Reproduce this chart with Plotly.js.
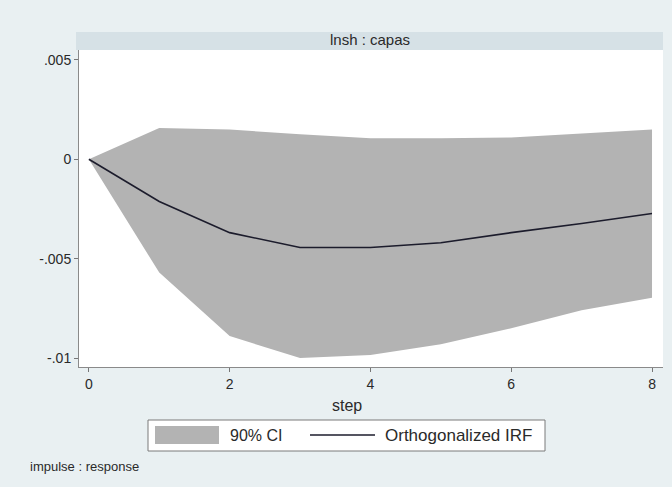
<!DOCTYPE html>
<html>
<head>
<meta charset="utf-8">
<script src="https://cdn.plot.ly/plotly-3.0.1.min.js"></script>
<style>html,body{margin:0;padding:0;background:#e9f0f2;}</style>
</head>
<body>
<div id="chart" style="width:672px;height:487px;"></div>
<script>
// Data
var steps = [0, 1, 2, 3, 4, 5, 6, 7, 8];
var irf   = [0, -0.00212, -0.00369, -0.00444, -0.00444, -0.0042, -0.00369, -0.00323, -0.00273];
var ciLow = [0, -0.0057, -0.00889, -0.0100, -0.00985, -0.0093, -0.0085, -0.0076, -0.00697];
var ciUp  = [0, 0.00157, 0.00150, 0.00126, 0.00106, 0.00106, 0.0011, 0.0013, 0.0015];
var yTickVals = [-0.01, -0.005, 0, 0.005];
var yTickText = ['-.01', '-.005', '0', '.005'];
var xTickVals = [0, 2, 4, 6, 8];
var panelTitle = 'lnsh : capas';
var xTitle = 'step';
var ciLabel = '90% CI';
var irfLabel = 'Orthogonalized IRF';
var noteText = 'impulse : response';

var fillCol = '#b3b3b3';
var lineCol = '#1c1c2c';
var font = 'Liberation Sans, Arial, sans-serif';

var traces = [
  {x: steps, y: ciLow, mode: 'lines', line: {width: 0, color: fillCol}, hoverinfo: 'skip', showlegend: false},
  {x: steps, y: ciUp, mode: 'lines', fill: 'tonexty', fillcolor: fillCol, line: {width: 0, color: fillCol}, showlegend: false},
  {x: steps, y: irf, mode: 'lines', line: {width: 1.6, color: lineCol}, showlegend: false}
];

// plot area: x 79..663, y 50..367 px
var W = 584, H = 317;
function px(x){ return (x - 79) / W; }
function py(y){ return (367 - y) / H; }

var layout = {
  width: 672, height: 487,
  margin: {l: 79, r: 9, t: 50, b: 120},
  paper_bgcolor: '#e9f0f2',
  plot_bgcolor: '#ffffff',
  font: {family: font, color: '#2a2a2a', size: 14},
  xaxis: {
    range: [-0.14, 8.156], tickvals: xTickVals, ticks: 'outside', ticklen: 4,
    tickcolor: '#777', showline: true, linecolor: '#8a8a8a', linewidth: 1,
    showgrid: false, zeroline: false, tickfont: {size: 14, color: '#2a2a2a'}
  },
  yaxis: {
    range: [-0.01045, 0.0055], tickvals: yTickVals, ticktext: yTickText,
    ticks: 'outside', ticklen: 4, tickcolor: '#777', showline: true,
    linecolor: '#8a8a8a', linewidth: 1, showgrid: false, zeroline: false,
    tickfont: {size: 14, color: '#2a2a2a'}
  },
  shapes: [
    // title strip
    {type: 'rect', xref: 'paper', yref: 'paper', x0: px(76), x1: px(663), y0: py(50), y1: py(32),
     fillcolor: '#d6e1e6', line: {width: 0}, layer: 'below'},
    // legend box
    {type: 'rect', xref: 'paper', yref: 'paper', x0: px(148), x1: px(545), y0: py(451), y1: py(420),
     fillcolor: '#ffffff', line: {color: '#7a7a7a', width: 1}},
    // CI swatch
    {type: 'rect', xref: 'paper', yref: 'paper', x0: px(155), x1: px(219), y0: py(444), y1: py(426),
     fillcolor: fillCol, line: {width: 0}},
    // IRF swatch
    {type: 'line', xref: 'paper', yref: 'paper', x0: px(310), x1: px(375), y0: py(435), y1: py(435),
     line: {color: lineCol, width: 1.6}}
  ],
  annotations: [
    {text: panelTitle, xref: 'paper', yref: 'paper', x: px(370), y: py(40), showarrow: false,
     xanchor: 'center', yanchor: 'middle', font: {size: 15, color: '#2a2a2a'}},
    {text: xTitle, xref: 'paper', yref: 'paper', x: px(347), y: py(405), showarrow: false,
     xanchor: 'center', yanchor: 'middle', font: {size: 16, color: '#2a2a2a'}},
    {text: ciLabel, xref: 'paper', yref: 'paper', x: px(228), y: py(435), showarrow: false,
     xanchor: 'left', yanchor: 'middle', font: {size: 16, color: '#2a2a2a'}},
    {text: irfLabel, xref: 'paper', yref: 'paper', x: px(383), y: py(435), showarrow: false,
     xanchor: 'left', yanchor: 'middle', font: {size: 17, color: '#2a2a2a'}},
    {text: noteText, xref: 'paper', yref: 'paper', x: px(28), y: py(466), showarrow: false,
     xanchor: 'left', yanchor: 'middle', font: {size: 13, color: '#2a2a2a'}}
  ]
};

Plotly.newPlot('chart', traces, layout, {displayModeBar: false, staticPlot: true});
</script>
</body>
</html>
